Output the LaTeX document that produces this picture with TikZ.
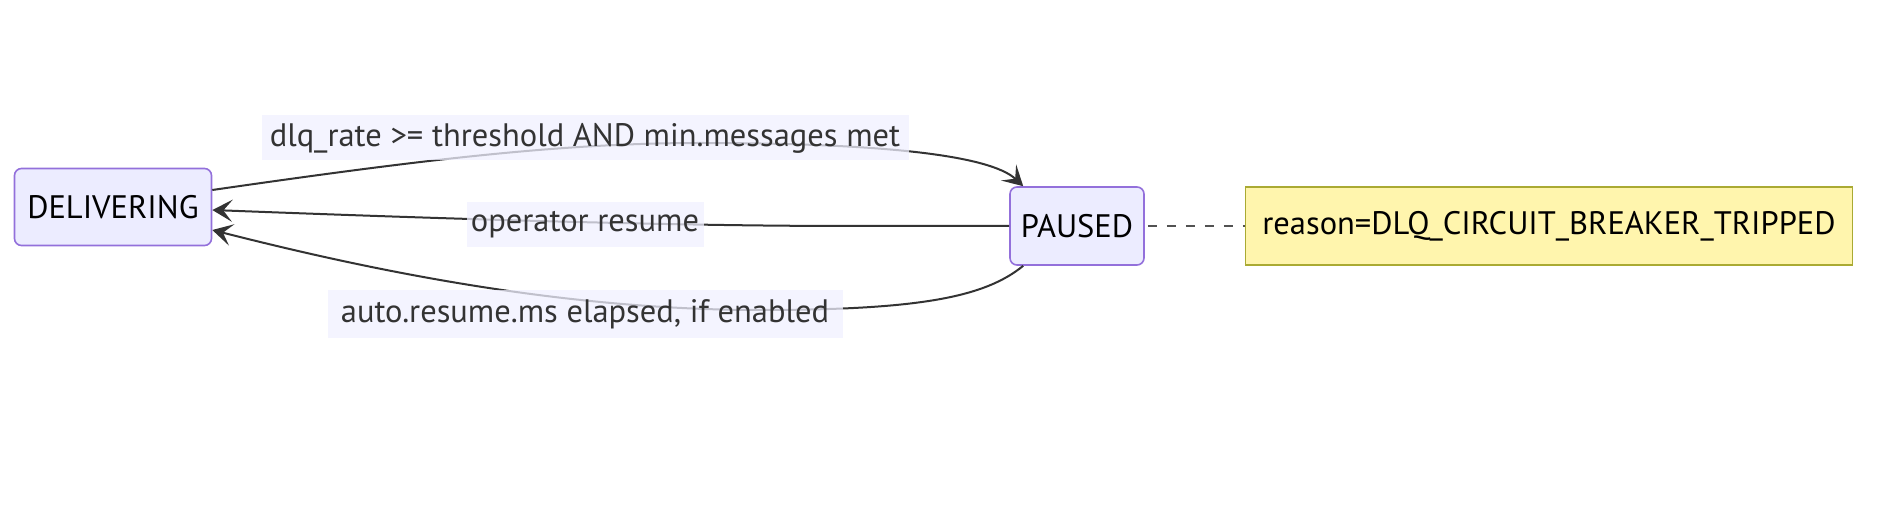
\documentclass[tikz,border=0pt]{standalone}
\usepackage{fontspec}
\setmainfont{PT Sans}
\usetikzlibrary{arrows.meta,calc}
\definecolor{nodefill}{HTML}{ECECFF}
\definecolor{nodeborder}{HTML}{9370DB}
\definecolor{notefill}{HTML}{FFF5AD}
\definecolor{noteborder}{HTML}{AAAA33}
\definecolor{edgecol}{HTML}{333333}
\definecolor{labelbg}{HTML}{F0F0FF}
\begin{document}
\begin{tikzpicture}[x=1pt,y=-1pt,
  font=\fontsize{32.5}{38}\selectfont,
  state/.style={draw=nodeborder,fill=nodefill,line width=1.6pt,rounded corners=7pt,inner sep=0pt,text=black},
  note/.style={draw=noteborder,fill=notefill,line width=1.6pt,inner sep=0pt,text=black},
  elabel/.style={fill=labelbg,fill opacity=0.75,text opacity=1,text=edgecol,inner sep=0pt},
  edge/.style={draw=edgecol,line width=2pt,-{Stealth[length=20pt,width=22pt,inset=9pt]}}]
\useasboundingbox (0,0) rectangle (1894,518);
\node[state,minimum width=197pt,minimum height=77pt] (D) at (113,207) {DELIVERING};
\node[state,minimum width=134pt,minimum height=78pt] (P) at (1077,226) {PAUSED};
\node[note,minimum width=607pt,minimum height=78pt] (N) at (1549,226) {reason=DLQ\_CIRCUIT\_BREAKER\_TRIPPED};
\draw[edgecol!85!white,line width=2pt,dash pattern=on 9pt off 10pt,dash phase=-3pt] (P.east) -- (N.west);
% edges
\draw[edge] ([yshift=17pt]D.east) .. controls (420,160) and (560,143) .. (700,143)
  .. controls (880,143) and (990,155) .. ([xshift=14pt]P.north west);
\draw[edge] (P.west) -- (850,226) .. controls (700,226) and (500,221) .. ([yshift=-3pt]D.east);
\draw[edge] ([xshift=14pt]P.south west) .. controls (985,297) and (920,310) .. (760,310)
  .. controls (550,310) and (350,265) .. ([yshift=-23pt]D.east);
% labels
\node[elabel,minimum width=647pt,minimum height=45pt] (L1) at (585,138) {dlq\_rate >= threshold AND min.messages met};
\node[elabel,minimum width=237pt,minimum height=45pt] (L2) at (585,225) {operator resume};
\node[elabel,minimum width=515pt,minimum height=48pt] (L3) at (585,314) {auto.resume.ms elapsed, if enabled};
\end{tikzpicture}
\end{document}
